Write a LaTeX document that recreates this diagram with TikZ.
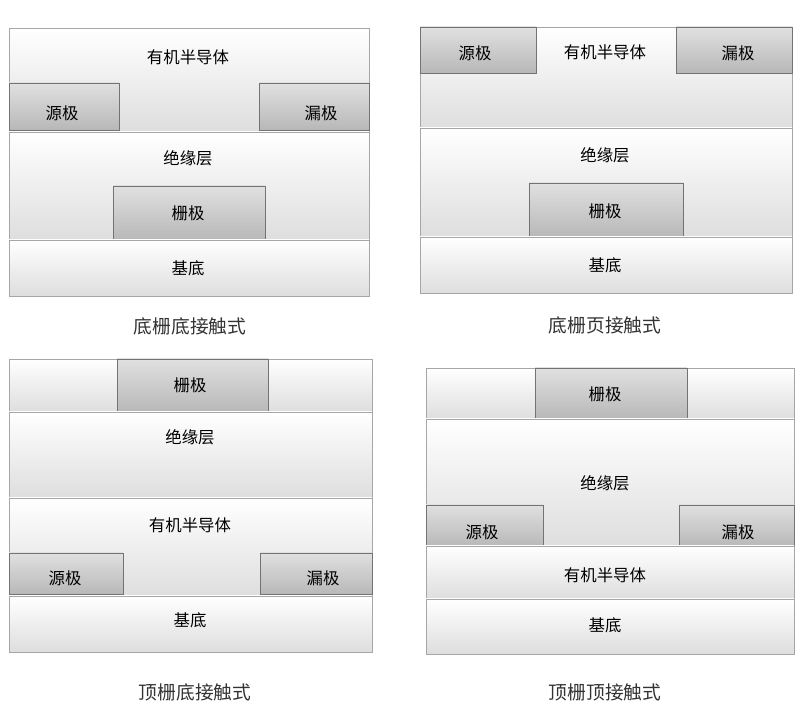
\documentclass[tikz,border=0pt]{standalone}
\usepackage{fontspec}
\newfontfamily\cjk{Noto Sans CJK SC}
\usetikzlibrary{backgrounds}

\tikzset{
	layer/.style={top color=white, bottom color=black!13, draw=black!35, line width=0.6pt},
	electrode/.style={top color=black!12, middle color=black!42, bottom color=black!28, draw=black!55, line width=0.7pt},
	lbl/.style={font=\cjk\fontsize{14}{14}\selectfont, text=black},
	capt/.style={font=\cjk\fontsize{16}{16}\selectfont, text=black!80}
}

\begin{document}
\begin{tikzpicture}[x=0.03cm, y=-0.03cm, background rectangle/.style={fill=white}, show background rectangle]

	\useasboundingbox (0,0) rectangle (800,711);

	% bottom gate, bottom contact
	\shade[layer] (9,28) rectangle (369,132);
	\shade[electrode] (9,83) rectangle (119,130);
	\shade[electrode] (259,83) rectangle (369,130);
	\shade[layer] (9,132) rectangle (369,240);
	\shade[electrode] (113,186) rectangle (265,240);
	\shade[layer] (9,240) rectangle (369,296);

	\node[lbl] (sc1) at (188,57) {有机半导体};
	\node[lbl] (src1) at (62,113) {源极};
	\node[lbl] (drn1) at (321,113) {漏极};
	\node[lbl] (ins1) at (188,158) {绝缘层};
	\node[lbl] (gate1) at (188,213) {栅极};
	\node[lbl] (sub1) at (188,268) {基底};
	\node[capt] (cap1) at (190,326) {底栅底接触式};

	% bottom gate, top contact
	\shade[layer] (420,27) rectangle (792,128);
	\shade[electrode] (420,27) rectangle (536,73);
	\shade[electrode] (676,27) rectangle (792,73);
	\shade[layer] (420,128) rectangle (792,237);
	\shade[electrode] (529,183) rectangle (683,237);
	\shade[layer] (420,237) rectangle (792,293);

	\node[lbl] (sc2) at (605,52) {有机半导体};
	\node[lbl] (src2) at (475,53) {源极};
	\node[lbl] (drn2) at (738,53) {漏极};
	\node[lbl] (ins2) at (605,155) {绝缘层};
	\node[lbl] (gate2) at (605,211) {栅极};
	\node[lbl] (sub2) at (605,265) {基底};
	\node[capt] (cap2) at (605,325) {底栅页接触式};

	% top gate, bottom contact
	\shade[layer] (9,359) rectangle (372,412);
	\shade[electrode] (117,359) rectangle (268,412);
	\shade[layer] (9,412) rectangle (372,498);
	\shade[layer] (9,498) rectangle (372,596);
	\shade[electrode] (9,553) rectangle (123,594);
	\shade[electrode] (260,553) rectangle (372,594);
	\shade[layer] (9,596) rectangle (372,652);

	\node[lbl] (gate3) at (190,385) {栅极};
	\node[lbl] (ins3) at (190,437) {绝缘层};
	\node[lbl] (sc3) at (190,525) {有机半导体};
	\node[lbl] (src3) at (65,578) {源极};
	\node[lbl] (drn3) at (323,578) {漏极};
	\node[lbl] (sub3) at (190,620) {基底};
	\node[capt] (cap3) at (195,692) {顶栅底接触式};

	% top gate, top contact
	\shade[layer] (426,368) rectangle (794,419);
	\shade[electrode] (535,368) rectangle (687,419);
	\shade[layer] (426,419) rectangle (794,546);
	\shade[electrode] (426,505) rectangle (543,546);
	\shade[electrode] (679,505) rectangle (794,546);
	\shade[layer] (426,546) rectangle (794,599);
	\shade[layer] (426,599) rectangle (794,654);

	\node[lbl] (gate4) at (605,394) {栅极};
	\node[lbl] (ins4) at (605,483) {绝缘层};
	\node[lbl] (src4) at (482,532) {源极};
	\node[lbl] (drn4) at (738,532) {漏极};
	\node[lbl] (sc4) at (605,575) {有机半导体};
	\node[lbl] (sub4) at (605,625) {基底};
	\node[capt] (cap4) at (605,692) {顶栅顶接触式};
\end{tikzpicture}
\end{document}
